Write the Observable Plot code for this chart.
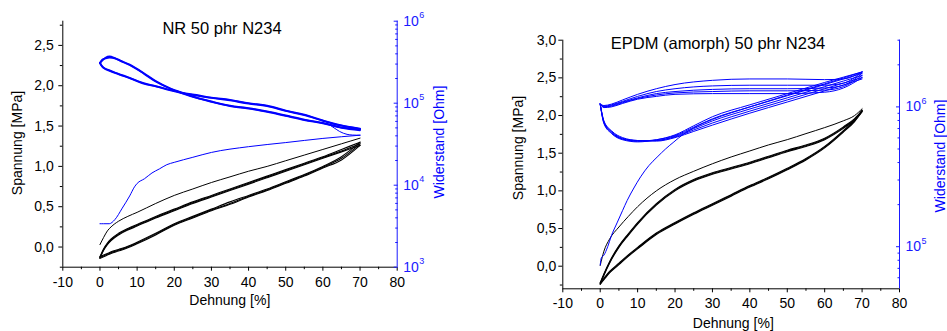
<!DOCTYPE html>
<html><head><meta charset="utf-8">
<script src="https://cdn.jsdelivr.net/npm/d3@7"></script>
<script src="https://cdn.jsdelivr.net/npm/@observablehq/plot@0.6"></script>
<style>
body{margin:0;background:#fff;}
#chart{position:relative;width:947px;height:331px;overflow:hidden;font-family:"Liberation Sans",Arial,Helvetica,sans-serif;background:#fff;}
#chart svg{position:absolute;left:0;top:0;}
.lbl{position:absolute;white-space:nowrap;line-height:1;transform:translate(-50%,-50%);color:#000;}
.rot{transform:translate(-50%,-50%) rotate(-90deg);}
</style></head><body><div id="chart"></div><script>
// ---------- shared axis data ----------
const xDomain = [-10, 80];
const xMajor = [-10, 0, 10, 20, 30, 40, 50, 60, 70, 80];
const xMinor = [-5, 5, 15, 25, 35, 45, 55, 65, 75];

// ---------- NR 50 phr N234 ----------
const nrStressDomain = [-0.25, 2.8];
const nrStressMajor = [0, 0.5, 1, 1.5, 2, 2.5];
const nrStressMinor = [-0.25, 0.25, 0.75, 1.25, 1.75, 2.25, 2.75];
const nrResDomain = [1e3, 1e6];
const nrResMajor = [1e3, 1e4, 1e5, 1e6];
const nrResMinor = [2e3,3e3,4e3,5e3,6e3,7e3,8e3,9e3,2e4,3e4,4e4,5e4,6e4,7e4,8e4,9e4,2e5,3e5,4e5,5e5,6e5,7e5,8e5,9e5];

const nrX = [0, 1, 2, 3, 5, 7.5, 10, 15, 20, 25, 30, 35, 40, 45, 50, 55, 60, 65, 70];
const nrFirst   = [0.03, 0.12, 0.20, 0.25, 0.32, 0.38, 0.43, 0.54, 0.64, 0.72, 0.80, 0.87, 0.94, 1.00, 1.07, 1.14, 1.21, 1.28, 1.35];
const nrReloadA = [-0.12, -0.02, 0.05, 0.10, 0.17, 0.23, 0.28, 0.38, 0.47, 0.56, 0.64, 0.72, 0.80, 0.88, 0.96, 1.04, 1.12, 1.21, 1.30];
const nrReloadB = [-0.13, -0.03, 0.04, 0.09, 0.16, 0.22, 0.27, 0.37, 0.46, 0.55, 0.63, 0.71, 0.79, 0.87, 0.95, 1.03, 1.11, 1.19, 1.28];
const nrReloadC = [-0.14, -0.04, 0.03, 0.08, 0.15, 0.21, 0.26, 0.36, 0.45, 0.54, 0.62, 0.70, 0.78, 0.86, 0.94, 1.02, 1.10, 1.18, 1.26];
const nrUnloadA = [-0.12, -0.10, -0.08, -0.06, -0.03, 0.01, 0.06, 0.17, 0.29, 0.38, 0.47, 0.56, 0.64, 0.72, 0.81, 0.90, 1.00, 1.12, 1.30];
const nrUnloadB = [-0.13, -0.11, -0.09, -0.07, -0.04, 0.00, 0.05, 0.16, 0.28, 0.37, 0.46, 0.54, 0.63, 0.71, 0.80, 0.89, 0.99, 1.10, 1.28];
const nrUnloadC = [-0.14, -0.12, -0.10, -0.08, -0.05, -0.01, 0.04, 0.15, 0.27, 0.36, 0.45, 0.53, 0.62, 0.70, 0.79, 0.88, 0.98, 1.08, 1.26];

const nrResFirstX = [0, 1, 2.5, 4, 6, 8, 9.3, 10, 12, 14, 16, 18, 20, 25, 30, 40, 50, 60, 70];
const nrResFirst  = [3390, 3390, 3390, 3800, 5250, 7400, 9550, 10500, 12000, 14100, 15800, 17800, 19000, 21900, 25100, 29500, 33100, 37200, 40700];
const nrResFirstUnloadX = [61, 63, 64.5, 66.5, 68, 70];
const nrResFirstUnload  = [57500, 50100, 45200, 41700, 40900, 40700];
const nrLoopX  = [0, 0.6, 1.5, 2.6, 4, 5.5, 8, 12, 15, 19, 22, 26, 30, 35, 40, 45, 50, 55, 60, 65, 70];
const nrLoopA1 = [309000, 331000, 359000, 372000, 355000, 331000, 295000, 229000, 186000, 151000, 135000, 117000, 105000, 93300, 87100, 79400, 70800, 63100, 57500, 50100, 46800];
const nrLoopB1 = [309000, 282000, 263000, 251000, 237000, 224000, 204000, 174000, 162000, 145000, 135000, 126000, 117000, 110000, 100000, 93300, 81300, 72400, 61700, 53700, 49000];
const nrLoopA2 = [309000, 339000, 351000, 359000, 351000, 327000, 292000, 226000, 184000, 150000, 133000, 116000, 104000, 92300, 86100, 78500, 70000, 62400, 56900, 50700, 47900];
const nrLoopB2 = [309000, 279000, 260000, 248000, 234000, 221000, 202000, 172000, 160000, 143000, 133000, 124000, 116000, 108000, 98900, 92300, 80400, 71600, 61000, 53100, 48400];

// ---------- EPDM (amorph) 50 phr N234 ----------
const epStressDomain = [-0.3, 3.0];
const epStressMajor = [0, 0.5, 1, 1.5, 2, 2.5, 3];
const epStressMinor = [-0.25, 0.25, 0.75, 1.25, 1.75, 2.25, 2.75];
const epResDomain = [5e4, 3e6];
const epResMajor = [1e5, 1e6];
const epResMinor = [6e4,7e4,8e4,9e4,2e5,3e5,4e5,5e5,6e5,7e5,8e5,9e5,2e6,3e6];

const epX = [0, 1, 2.5, 5, 7.5, 10, 15, 20, 25, 30, 35, 40, 45, 50, 55, 60, 65, 68, 70];
const epFirst   = [0.01, 0.20, 0.36, 0.52, 0.66, 0.79, 1.00, 1.15, 1.26, 1.36, 1.45, 1.53, 1.61, 1.68, 1.76, 1.84, 1.93, 2.00, 2.09];
const epReloadA = [-0.22, -0.10, 0.06, 0.27, 0.43, 0.58, 0.83, 1.02, 1.15, 1.24, 1.31, 1.38, 1.46, 1.54, 1.61, 1.70, 1.85, 1.96, 2.07];
const epReloadB = [-0.23, -0.11, 0.05, 0.26, 0.42, 0.57, 0.82, 1.01, 1.14, 1.23, 1.30, 1.37, 1.45, 1.53, 1.60, 1.69, 1.84, 1.95, 2.06];
const epReloadC = [-0.24, -0.12, 0.04, 0.25, 0.41, 0.56, 0.81, 1.00, 1.13, 1.22, 1.29, 1.36, 1.44, 1.52, 1.59, 1.68, 1.83, 1.94, 2.05];
const epUnloadA = [-0.22, -0.16, -0.07, 0.04, 0.15, 0.25, 0.44, 0.58, 0.71, 0.83, 0.95, 1.07, 1.18, 1.30, 1.43, 1.59, 1.80, 1.94, 2.07];
const epUnloadB = [-0.23, -0.17, -0.08, 0.03, 0.14, 0.24, 0.43, 0.57, 0.70, 0.82, 0.94, 1.06, 1.17, 1.29, 1.42, 1.58, 1.79, 1.93, 2.06];
const epUnloadC = [-0.24, -0.18, -0.09, 0.02, 0.13, 0.23, 0.42, 0.56, 0.69, 0.81, 0.93, 1.05, 1.16, 1.28, 1.41, 1.57, 1.78, 1.92, 2.05];

const epResFirstX = [0, 0.3, 1, 2, 3, 4.5, 6, 7.2, 9, 10.8, 13, 15.2, 17.5, 19.7, 22, 25, 30, 40, 50, 60, 70];
const epResFirst  = [74100, 83200, 87100, 100000, 120000, 148000, 182000, 214000, 263000, 316000, 380000, 437000, 501000, 562000, 631000, 708000, 813000, 1000000, 1216000, 1462000, 1778000];
const epLoadX = [0, 1, 3, 6, 10, 15, 20, 25, 30, 40, 50, 60, 70];
const epLoad2 = [1047000, 759000, 646000, 582000, 562000, 582000, 631000, 733000, 851000, 1035000, 1245000, 1496000, 1778000];
const epLoad3 = [1047000, 767000, 653000, 589000, 569000, 582000, 624000, 716000, 822000, 1000000, 1202000, 1445000, 1738000];
const epLoad4 = [1047000, 776000, 661000, 589000, 569000, 575000, 617000, 700000, 794000, 966000, 1161000, 1396000, 1679000];
const epLoad5 = [1047000, 785000, 668000, 596000, 575000, 575000, 610000, 684000, 767000, 933000, 1122000, 1349000, 1622000];
const epLoad6 = [1047000, 794000, 676000, 603000, 575000, 569000, 603000, 668000, 741000, 902000, 1084000, 1303000, 1585000];
const epUnX = [0, 1, 3, 6, 10, 15, 20, 30, 40, 50, 60, 65, 70];
const epUnload1 = [1047000, 1023000, 1047000, 1122000, 1230000, 1349000, 1445000, 1549000, 1585000, 1585000, 1567000, 1585000, 1778000];
const epUnload2 = [1047000, 1012000, 1035000, 1096000, 1189000, 1288000, 1349000, 1413000, 1429000, 1429000, 1429000, 1479000, 1778000];
const epUnload3 = [1047000, 1000000, 1023000, 1084000, 1161000, 1245000, 1288000, 1334000, 1349000, 1349000, 1365000, 1429000, 1738000];
const epUnload4 = [1047000, 1000000, 1012000, 1072000, 1148000, 1216000, 1259000, 1288000, 1303000, 1303000, 1318000, 1396000, 1679000];
const epUnload5 = [1047000, 989000, 1000000, 1059000, 1135000, 1189000, 1230000, 1245000, 1245000, 1245000, 1274000, 1365000, 1622000];

// ---------- rendering ----------
const W = 947, H = 331;
const FONT = '"Liberation Sans", Arial, Helvetica, sans-serif';
const BLUE = "#0000ff";
const BLUE_AXIS = "#1a1aff";
const rows = (xs, ys) => xs.map((x, i) => ({x, y: ys[i]}));
const comma = d => d.toFixed(1).replace(".", ",");

function stressPlot(f, yDom, yMaj, yMin, yPad, curves) {
  return Plot.plot({
    width: W, height: H,
    marginLeft: f.l, marginRight: W - f.r, marginTop: f.t, marginBottom: H - f.b,
    style: {background: "transparent", overflow: "visible", fontFamily: FONT, fontSize: "14px", color: "#000"},
    x: {domain: xDomain},
    y: {domain: yDom},
    marks: [
      Plot.axisX(xMajor, {anchor: "bottom", tickSize: 4, tickPadding: 5.5, tickFormat: d => String(d), label: null}),
      Plot.axisX(xMinor, {anchor: "bottom", tickSize: 2.5, tickFormat: () => "", label: null}),
      Plot.axisY(yMaj, {anchor: "left", tickSize: 4, tickPadding: yPad, tickFormat: comma, label: null}),
      Plot.axisY(yMin, {anchor: "left", tickSize: 2.5, tickFormat: () => "", label: null}),
      Plot.ruleX(xDomain.slice(0, 1), {stroke: "#000"}),
      Plot.ruleY(yDom.slice(0, 1), {stroke: "#000"}),
      ...curves.map(c => Plot.line(rows(c.x, c.y), {x: "x", y: "y", stroke: "#000", strokeWidth: c.w, curve: "monotone-x"}))
    ]
  });
}

function resPlot(f, rDom, rMaj, rMin, curves) {
  const svg = Plot.plot({
    width: W, height: H,
    marginLeft: f.l, marginRight: W - f.r, marginTop: f.t, marginBottom: H - f.b,
    style: {background: "transparent", overflow: "visible", fontFamily: FONT, fontSize: "14px", color: BLUE_AXIS},
    x: {domain: xDomain, axis: null},
    y: {type: "log", domain: rDom},
    marks: [
      Plot.axisY(rMaj, {anchor: "right", tickSize: 0, tickPadding: 6, tickFormat: d => "10^" + Math.round(Math.log10(d)), label: null}),
      Plot.axisY(rMaj, {anchor: "right", tickSize: 4, dx: -4, tickFormat: () => "", label: null}),
      Plot.axisY(rMin, {anchor: "right", tickSize: 2.5, dx: -2.5, tickFormat: () => "", label: null}),
      Plot.ruleX(xDomain.slice(1), {stroke: BLUE_AXIS}),
      ...curves.map(c => Plot.line(rows(c.x, c.y), {x: "x", y: "y", stroke: BLUE, strokeWidth: c.w, curve: "monotone-x"}))
    ]
  });
  d3.select(svg).selectAll("text").each(function () {
    const m = /^10\^(\d)$/.exec(this.textContent);
    if (!m) return;
    const t = d3.select(this);
    t.text(null);
    t.append("tspan").text("10");
    t.append("tspan").attr("dy", "-7.5").attr("dx", "0.5").attr("font-size", "9px").text(m[1]);
  });
  return svg;
}

const chart = document.getElementById("chart");
const frameA = {l: 62.3, r: 396.7, t: 20.7, b: 266.7};
const frameB = {l: 562.3, r: 899, t: 39.7, b: 288.3};

chart.appendChild(stressPlot(frameA, nrStressDomain, nrStressMajor, nrStressMinor, 5, [
  {x: nrX, y: nrFirst, w: 1},
  {x: nrX, y: nrReloadA, w: 1.1}, {x: nrX, y: nrReloadB, w: 1.1}, {x: nrX, y: nrReloadC, w: 1.1},
  {x: nrX, y: nrUnloadA, w: 1.1}, {x: nrX, y: nrUnloadB, w: 1.1}, {x: nrX, y: nrUnloadC, w: 1.1}
]));
chart.appendChild(resPlot(frameA, nrResDomain, nrResMajor, nrResMinor, [
  {x: nrResFirstX, y: nrResFirst, w: 1},
  {x: nrResFirstUnloadX, y: nrResFirstUnload, w: 1},
  {x: nrLoopX, y: nrLoopA1, w: 1.8}, {x: nrLoopX, y: nrLoopB1, w: 1.8},
  {x: nrLoopX, y: nrLoopA2, w: 1.8}, {x: nrLoopX, y: nrLoopB2, w: 1.8}
]));
chart.appendChild(stressPlot(frameB, epStressDomain, epStressMajor, epStressMinor, 2.5, [
  {x: epX, y: epFirst, w: 1},
  {x: epX, y: epReloadA, w: 1.1}, {x: epX, y: epReloadB, w: 1.1}, {x: epX, y: epReloadC, w: 1.1},
  {x: epX, y: epUnloadA, w: 1.1}, {x: epX, y: epUnloadB, w: 1.1}, {x: epX, y: epUnloadC, w: 1.1}
]));
chart.appendChild(resPlot(frameB, epResDomain, epResMajor, epResMinor, [
  {x: epResFirstX, y: epResFirst, w: 1},
  {x: epLoadX, y: epLoad2, w: 1}, {x: epLoadX, y: epLoad3, w: 1}, {x: epLoadX, y: epLoad4, w: 1},
  {x: epLoadX, y: epLoad5, w: 1}, {x: epLoadX, y: epLoad6, w: 1},
  {x: epUnX, y: epUnload1, w: 1}, {x: epUnX, y: epUnload2, w: 1}, {x: epUnX, y: epUnload3, w: 1},
  {x: epUnX, y: epUnload4, w: 1}, {x: epUnX, y: epUnload5, w: 1}
]));

// ---------- titles and axis labels ----------
const labels = [
  {text: "NR 50 phr N234", x: 222, y: 28, size: 16.5},
  {text: "EPDM (amorph) 50 phr N234", x: 718, y: 43.3, size: 16.5},
  {text: "Dehnung [%]", x: 229.8, y: 300, size: 14},
  {text: "Dehnung [%]", x: 733.3, y: 322.7, size: 14},
  {text: "Spannung [MPa]", x: 16.7, y: 142.5, size: 14, rot: true},
  {text: "Spannung [MPa]", x: 518.3, y: 147.5, size: 14, rot: true},
  {text: "Widerstand [Ohm]", x: 439.3, y: 142, size: 14, rot: true, color: BLUE},
  {text: "Widerstand [Ohm]", x: 939.5, y: 155.7, size: 14, rot: true, color: BLUE}
];
for (const l of labels) {
  const d = document.createElement("div");
  d.className = "lbl" + (l.rot ? " rot" : "");
  d.textContent = l.text;
  d.style.left = l.x + "px";
  d.style.top = l.y + "px";
  d.style.fontSize = l.size + "px";
  if (l.color) d.style.color = l.color;
  chart.appendChild(d);
}
</script></body></html>
